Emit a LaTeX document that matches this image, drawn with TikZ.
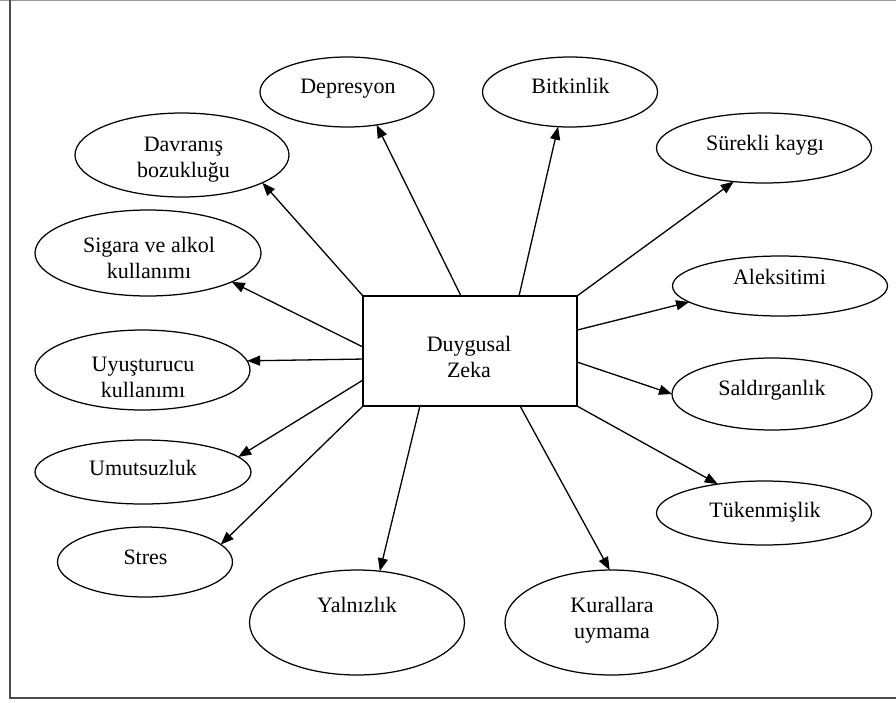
\documentclass[tikz,border=0pt]{standalone}
\usepackage{fontspec}
\setmainfont{Liberation Serif}
\usetikzlibrary{shapes.geometric,arrows.meta,calc}
\begin{document}
\begin{tikzpicture}[x=1pt,y=-1pt,
  bub/.style={ellipse, draw, line width=1.25pt, inner sep=0pt, outer sep=0pt},
  hub/.style={rectangle, draw, line width=1.5pt, minimum width=214pt, minimum height=110pt, inner sep=0pt, outer sep=0pt},
  lbl/.style={font=\fontsize{22}{26}\selectfont, align=center, inner sep=0pt},
  one/.style={lbl, text height=14pt, text depth=5pt},
  arr/.style={-{Triangle[length=13pt,width=10pt]}, line width=1.3pt}]
\useasboundingbox (0,0) rectangle (896,702);
% frame
\draw[black!40, line width=1pt] (0,0.5) -- (896,0.5);
\draw[black!70, line width=2pt] (10,0) -- (10,698) -- (896,698);

% central box
\node[hub] (dz) at (470,351) {};
\node[lbl] (tdz) at (469,357) {Duygusal\\Zeka};

% surrounding ellipses
\node[bub, minimum width=214pt, minimum height=84pt] (davr) at (182,155) {};
\node[bub, minimum width=174pt, minimum height=70pt] (dep) at (347,92) {};
\node[bub, minimum width=175pt, minimum height=70pt] (bit) at (570,92) {};
\node[bub, minimum width=215pt, minimum height=70pt] (surk) at (764,148) {};
\node[bub, minimum width=226pt, minimum height=86pt] (sig) at (148,253) {};
\node[bub, minimum width=215pt, minimum height=60pt] (alek) at (780,286) {};
\node[bub, minimum width=215pt, minimum height=80pt] (uyus) at (142.5,370) {};
\node[bub, minimum width=200pt, minimum height=72pt] (sald) at (772,394) {};
\node[bub, minimum width=216pt, minimum height=64pt] (umut) at (143,472) {};
\node[bub, minimum width=215pt, minimum height=64pt] (tuk) at (764,513) {};
\node[bub, minimum width=175pt, minimum height=70pt] (stres) at (145,562) {};
\node[bub, minimum width=215pt, minimum height=105pt] (yal) at (357,622.5) {};
\node[bub, minimum width=213pt, minimum height=105pt] (kur) at (611.5,622.5) {};

% texts
\node[lbl] (tdavr) at (183.5,160) {Davranış\\bozukluğu};
\node[one] (tdep) at (348,88.5) {Depresyon};
\node[one] (tbit) at (570.5,88.5) {Bitkinlik};
\node[one] (tsurk) at (765,145.5) {Sürekli kaygı};
\node[lbl] (tsig) at (149,257.5) {Sigara ve alkol\\kullanımı};
\node[one] (talek) at (779.5,279.5) {Aleksitimi};
\node[lbl] (tuyus) at (143,377) {Uyuşturucu\\kullanımı};
\node[one] (tsald) at (772,390.5) {Saldırganlık};
\node[one] (tumut) at (143,470.5) {Umutsuzluk};
\node[one] (ttuk) at (765,512.5) {Tükenmişlik};
\node[one] (tstres) at (145.5,559.5) {Stres};
\node[one] (tyal) at (357,607.5) {Yalnızlık};
\node[lbl] (tkur) at (612,620.5) {Kurallara\\uymama};

% connectors
\draw[arr] (dz.north west) -- (davr.-19);
\draw[arr] ($(dz.north west)!0.458!(dz.north east)$) -- (dep.-48);
\draw[arr] ($(dz.north west)!0.729!(dz.north east)$) -- (bit.251.6);
\draw[arr] (dz.north east) -- (surk.228.5);
\draw[arr] ($(dz.north east)!0.31!(dz.south east)$) -- (alek.190);
\draw[arr] ($(dz.north east)!0.6!(dz.south east)$) -- (sald.180);
\draw[arr] (dz.south east) -- (tuk.148);
\draw[arr] ($(dz.south west)!0.734!(dz.south east)$) -- (kur.92);
\draw[arr] ($(dz.south west)!0.266!(dz.south east)$) -- (yal.66);
\draw[arr] (dz.south west) -- (stres.13);
\draw[arr] ($(dz.north west)!0.764!(dz.south west)$) -- (umut.9);
\draw[arr] ($(dz.north west)!0.573!(dz.south west)$) -- (uyus.5);
\draw[arr] ($(dz.north west)!0.464!(dz.south west)$) -- (sig.-19);
\end{tikzpicture}
\end{document}
